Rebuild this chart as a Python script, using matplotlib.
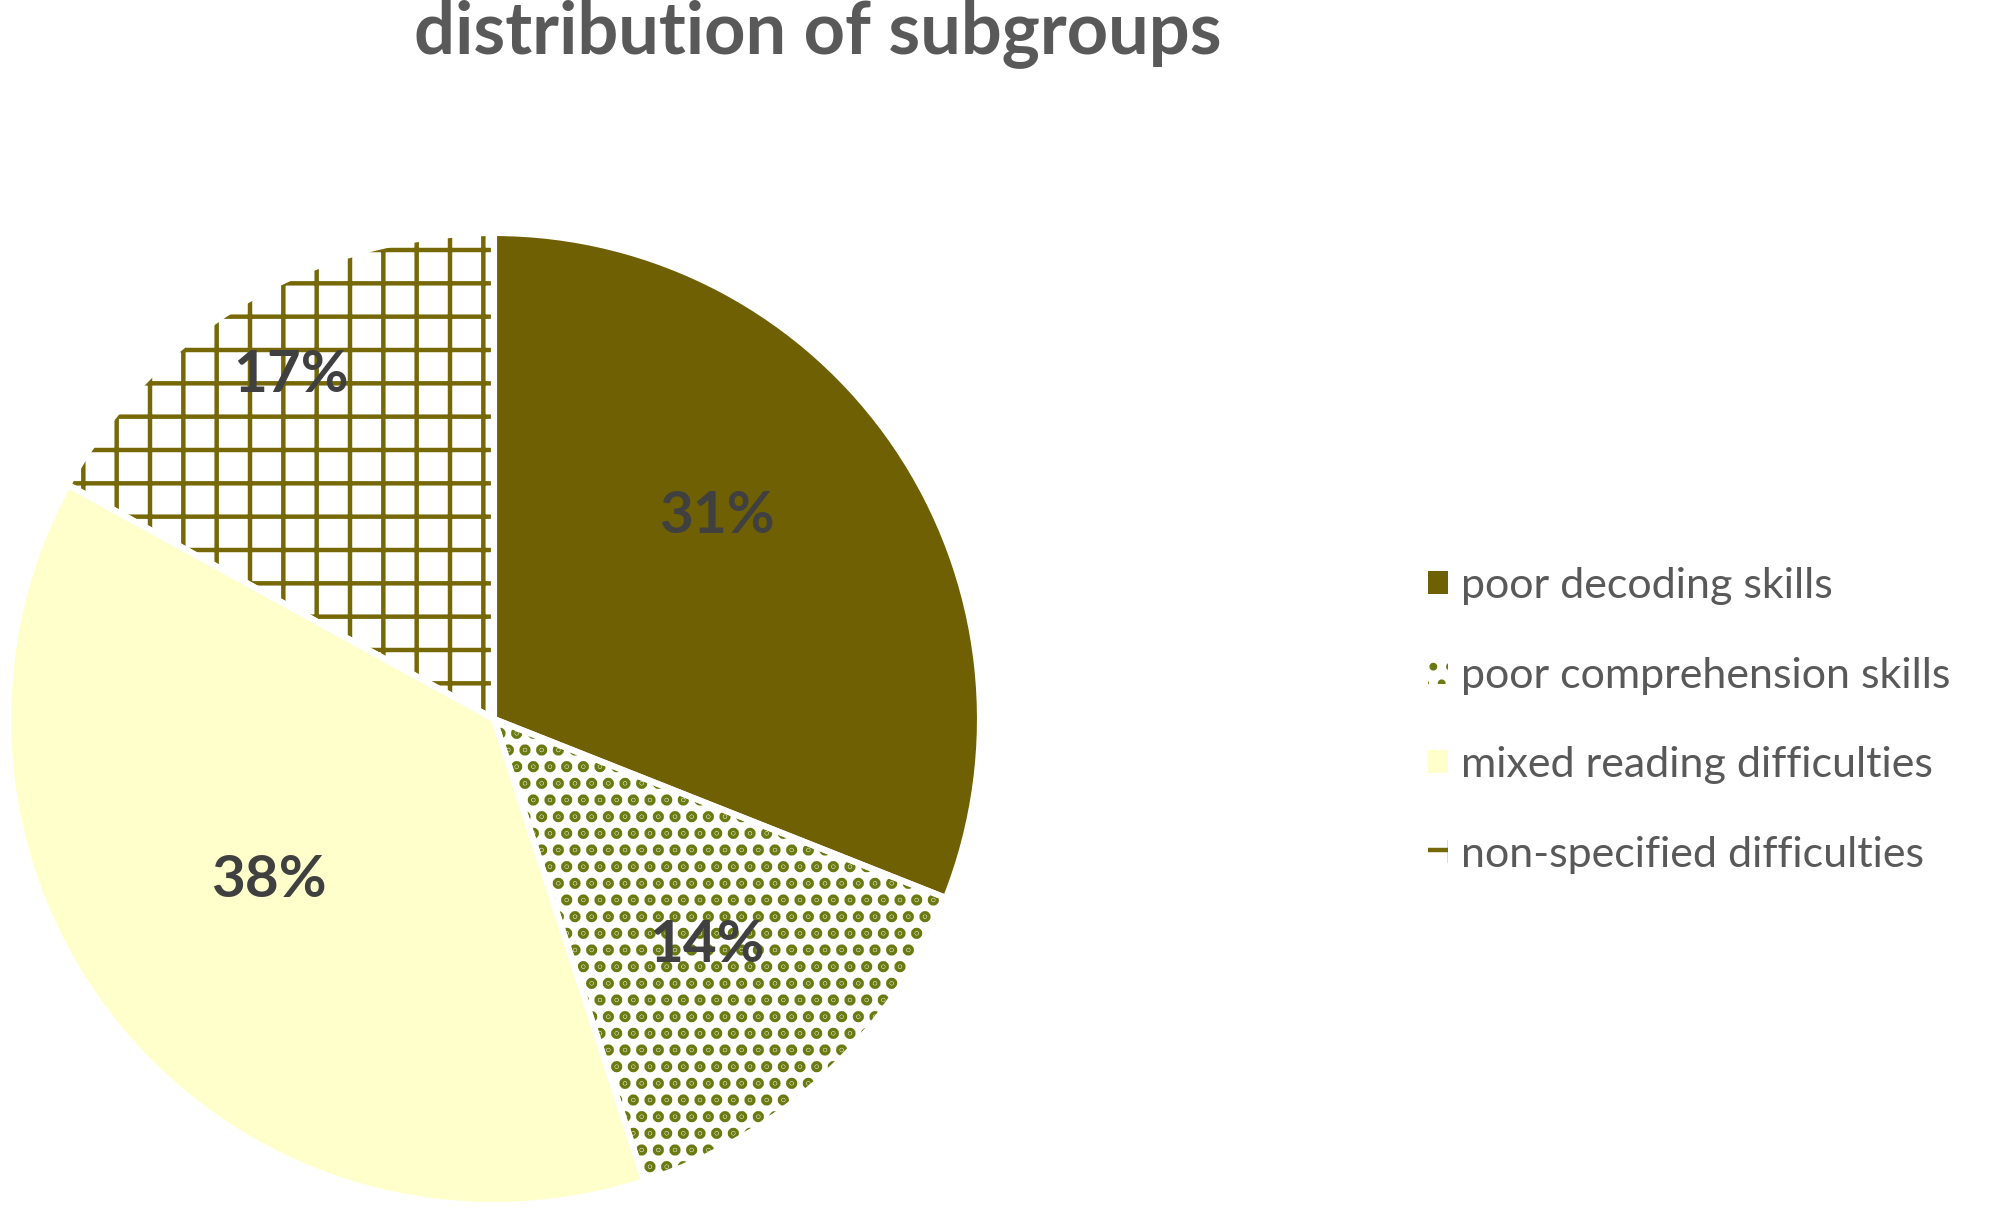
import matplotlib.pyplot as plt
import numpy as np

# subgroup shares (percent), clockwise from 12 o'clock
subgroups = ['poor decoding skills', 'poor comprehension skills',
             'mixed reading difficulties', 'non-specified difficulties']
shares = [31, 14, 38, 17]

face_colors = ['#6F6004', 'white', '#FFFFCC', 'white']
hatch_colors = ['#6F6004', '#6A7A10', '#FFFFCC', '#776807']
hatches = [None, '..', None, '+']
hatch_widths = [1, 2.8, 1, 1.6]
label_dist = [0.62, 0.64, 0.57, 0.82]
label_shift = [8, 0, -4, 0]   # degrees, nudges like Excel's best fit

plt.rcParams['font.family'] = ['Lato', 'DejaVu Sans']
plt.rcParams['hatch.linewidth'] = 1.6

fig = plt.figure(figsize=(9.975, 6.11), dpi=200)
W, H = 1995, 1222
cx, cy, r = 494, 719, 486
ax = fig.add_axes([(cx - r) / W, (H - cy - r) / H, 2 * r / W, 2 * r / H])

wedges, _ = ax.pie(shares, colors=face_colors, startangle=90, counterclock=False,
                   radius=1, wedgeprops=dict(linewidth=0))
for w, h, hc, hw in zip(wedges, hatches, hatch_colors, hatch_widths):
    w.set_edgecolor(hc)
    if h:
        w.set_hatch(h)
        if hasattr(w, 'set_hatch_linewidth'):
            w.set_hatch_linewidth(hw)

# white separators on top
ax.pie(shares, colors=['none'] * 4, startangle=90, counterclock=False, radius=1,
       wedgeprops=dict(linewidth=2.2, edgecolor='white', fill=False))

for w, s, d, sh in zip(wedges, shares, label_dist, label_shift):
    ang = np.deg2rad((w.theta1 + w.theta2) / 2 + sh)
    ax.text(d * np.cos(ang), d * np.sin(ang), f'{s}%', ha='center', va='center',
            fontsize=21, fontweight='bold', color='#404040')

ax.set_xlim(-1, 1)
ax.set_ylim(-1, 1)
ax.axis('off')

fig.text(818 / W, 1 - 34 / H, 'distribution of subgroups', ha='center', va='center',
         fontsize=26, fontweight='bold', color='#595959')

leg = fig.legend(wedges, subgroups, loc='center left', bbox_to_anchor=(0.716, 0.4105),
                 frameon=False, fontsize=15.5, handlelength=0.45, handleheight=0.45,
                 handletextpad=0.3, labelspacing=1.2, borderpad=0, borderaxespad=0)
for t in leg.get_texts():
    t.set_color('#595959')

fig.savefig('out.png', dpi=200)
